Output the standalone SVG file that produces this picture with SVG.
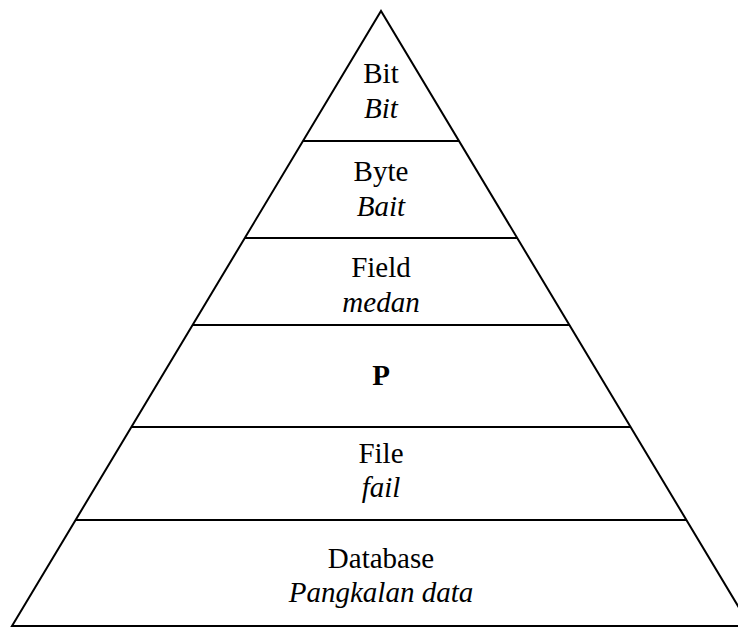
<svg xmlns="http://www.w3.org/2000/svg" width="738" height="628" viewBox="0 0 738 628">
<style>
.l{stroke:#000;stroke-width:2;fill:none;stroke-linecap:butt}
.t{font-family:"Liberation Serif","Times New Roman",serif;font-size:29px;fill:#000;text-anchor:middle}
.i{font-style:italic}
.b{font-weight:bold}
</style>
<rect width="738" height="628" fill="#fff"/>
<g id="connectors">
<polyline class="l" points="750,626 381,11 12,626 750,626"/>
<line class="l" x1="303" y1="141" x2="459" y2="141"/>
<line class="l" x1="245" y1="238" x2="517" y2="238"/>
<line class="l" x1="193" y1="325" x2="569" y2="325"/>
<line class="l" x1="131" y1="427" x2="631" y2="427"/>
<line class="l" x1="76" y1="520" x2="686" y2="520"/>
</g>
<g id="bit"><text class="t" x="381" y="83">Bit</text><text class="t i" x="381" y="118">Bit</text></g>
<g id="byte"><text class="t" x="381" y="181">Byte</text><text class="t i" x="381" y="216">Bait</text></g>
<g id="field"><text class="t" x="381" y="277">Field</text><text class="t i" x="381" y="312">medan</text></g>
<g id="p"><text class="t b" x="381" y="385">P</text></g>
<g id="file"><text class="t" x="381" y="463">File</text><text class="t i" x="381" y="497">fail</text></g>
<g id="database"><text class="t" x="381" y="568">Database</text><text class="t i" x="381" y="602">Pangkalan data</text></g>
</svg>
